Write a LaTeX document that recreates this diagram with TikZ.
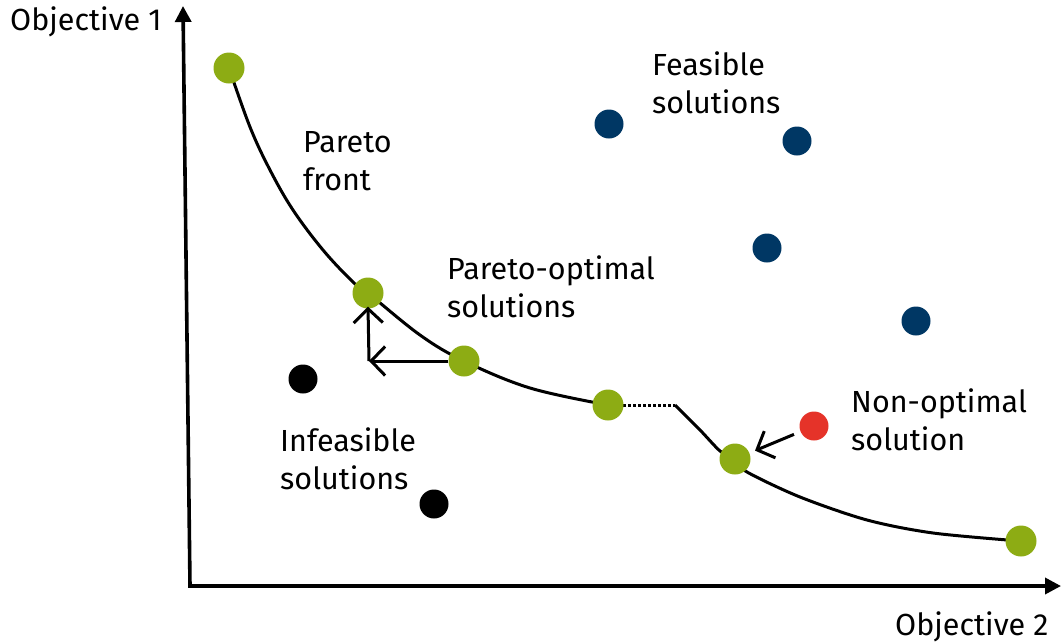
\documentclass[tikz,border=0pt]{standalone}
\usepackage{fontspec}
\setmainfont{Fira Sans}
\usetikzlibrary{arrows.meta}
\definecolor{pgreen}{RGB}{141,172,20}
\definecolor{pblue}{RGB}{0,55,100}
\definecolor{pred}{RGB}{229,51,41}
\begin{document}
\begin{tikzpicture}[x=1pt,y=-1pt,
  dotg/.style={circle,fill=pgreen,minimum size=31pt,inner sep=0pt},
  dotb/.style={circle,fill=pblue,minimum size=29pt,inner sep=0pt},
  dotk/.style={circle,fill=black,minimum size=29pt,inner sep=0pt},
  dotr/.style={circle,fill=pred,minimum size=29pt,inner sep=0pt},
  lbl/.style={anchor=base west,align=left,inner sep=0pt,font=\fontsize{30.5}{38}\selectfont},
  axis/.style={line width=3.6pt,-{Triangle[length=16pt,width=16pt]}},
  curve/.style={line width=3pt},
  barb/.style={line width=3pt,-{Straight Barb[length=14pt,width=29pt,line width=3pt]}}
]
\useasboundingbox (0,0) rectangle (1061,641);
% axes
\coordinate (o) at (190,586);
\coordinate (ytop) at (183,6);
\coordinate (xend) at (1061,586);
\draw[axis] (o) -- (ytop);
\draw[axis] ([xshift=-1.8pt]o) -- (xend);
% Pareto curve
\draw[curve] plot[smooth,tension=0.6] coordinates {(229,68) (250,127) (270,170) (293,210) (323,250) (353,282) (368,293) (420,335) (464,361) (530,388) (608,405)};
\coordinate (d1) at (623,405);
\coordinate (d2) at (675,405);
\draw[line width=3pt,dotted] (d1) -- (d2);
\draw[curve] plot[smooth,tension=0.5] coordinates {(675,405) (700,430) (720,451) (734,459) (747,472) (800,497) (867,520) (933,533) (1020,541)};
% dots
\node[dotg] (g1) at (229,68) {};
\node[dotg] (g2) at (368,293) {};
\node[dotg] (g3) at (464,361) {};
\node[dotg] (g4) at (608,405) {};
\node[dotg] (g5) at (735,459) {};
\node[dotg] (g6) at (1021,541) {};
\node[dotb] (b1) at (609,124) {};
\node[dotb] (b2) at (797,141) {};
\node[dotb] (b3) at (767,248) {};
\node[dotb] (b4) at (916,321) {};
\node[dotk] (k1) at (303,379) {};
\node[dotk] (k2) at (434,504) {};
\node[dotr] (r1) at (814,426) {};
% arrows
\coordinate (corner) at (369,361);
\draw[barb] (g3) -- (corner);
\draw[line width=3pt] ([yshift=1.5pt]corner) -- (corner);
\draw[barb] (corner) -- ([yshift=2pt]g2.south);
\draw[barb,shorten <=7pt,shorten >=6pt] (r1) -- (g5);
% labels
\node[lbl] (t1) at (10,30) {Objective 1};
\node[lbl] (t2) at (895,635) {Objective 2};
\node[lbl] (t3) at (652,113) {Feasible\\solutions};
\node[lbl] (t4) at (303,190) {Pareto\\front};
\node[lbl] (t5) at (447,317) {Pareto-optimal\\solutions};
\node[lbl] (t6) at (280,489) {Infeasible\\solutions};
\node[lbl] (t7) at (851,450) {Non-optimal\\solution};
\end{tikzpicture}
\end{document}
